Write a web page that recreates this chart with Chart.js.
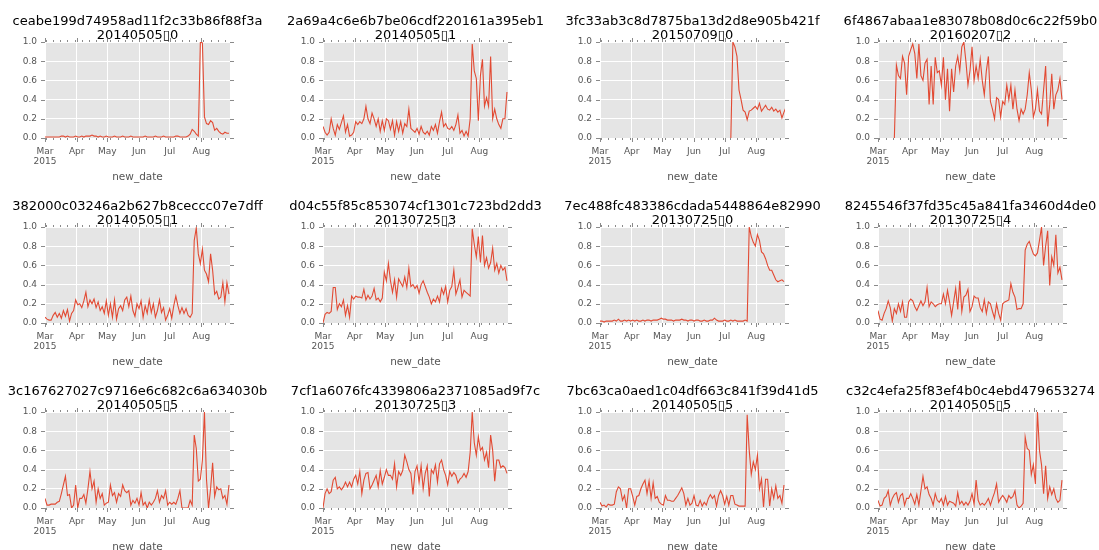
<!DOCTYPE html>
<html>
<head>
<meta charset="utf-8">
<script src="https://cdn.jsdelivr.net/npm/chart.js@4.4.0/dist/chart.umd.min.js"></script>
<style>
body { margin: 0; background: #fff; }
#wrap { position: relative; width: 1099px; height: 550px; overflow: hidden; }
#wrap canvas { position: absolute; }
</style>
</head>
<body>
<div id="wrap"></div>
<script>
// days counted from 2015-03-01, one value every DAY_STEP days
var DAY_STEP = 2;
var LAST_DAY = 181;
var MONTH_DAYS = [0, 31, 61, 92, 122, 153];
var MONTH_LABELS = [['Mar', '2015'], 'Apr', 'May', 'Jun', 'Jul', 'Aug'];
var Y_TICKS = [0, 0.2, 0.4, 0.6, 0.8, 1.0];

var TITLES = [
    ['ceabe199d74958ad11f2c33b86f88f3a', '20140505\u25AF0'],
    ['2a69a4c6e6b7be06cdf220161a395eb1', '20140505\u25AF1'],
    ['3fc33ab3c8d7875ba13d2d8e905b421f', '20150709\u25AF0'],
    ['6f4867abaa1e83078b08d0c6c22f59b0', '20160207\u25AF2'],
    ['382000c03246a2b627b8ceccc07e7dff', '20140505\u25AF1'],
    ['d04c55f85c853074cf1301c723bd2dd3', '20130725\u25AF3'],
    ['7ec488fc483386cdada5448864e82990', '20130725\u25AF0'],
    ['8245546f37fd35c45a841fa3460d4de0', '20130725\u25AF4'],
    ['3c167627027c9716e6c682c6a634030b', '20140505\u25AF5'],
    ['7cf1a6076fc4339806a2371085ad9f7c', '20130725\u25AF3'],
    ['7bc63ca0aed1c04df663c841f39d41d5', '20140505\u25AF5'],
    ['c32c4efa25f83ef4b0c4ebd479653274', '20140505\u25AF5']
];
var START_DAYS = [0, 0, 128, 16, 0, 0, 0, 0, 0, 0, 0, 0];

var s1 = [0.01,0.01,0.01,0.01,0.01,0.01,0.01,0.01,0.02,0.02,
    0.01,0.02,0.01,0.01,0.01,0.02,0.01,0.01,0.02,0.01,
    0.02,0.02,0.02,0.03,0.02,0.02,0.01,0.02,0.01,0.01,
    0.02,0.01,0.01,0.01,0.02,0.01,0.01,0.01,0.02,0.01,
    0.01,0.01,0.02,0.01,0.01,0.01,0.01,0.01,0.01,0.02,
    0.01,0.01,0.01,0.01,0.02,0.01,0.01,0.01,0.02,0.01,
    0.01,0.01,0.01,0.01,0.02,0.02,0.01,0.01,0.01,0.01,
    0.02,0.04,0.09,0.07,0.04,0.02,1.00,0.99,0.22,0.15,
    0.14,0.18,0.16,0.08,0.10,0.07,0.05,0.04,0.06,0.05,
    0.05];
var s2 = [0.12,0.06,0.03,0.06,0.20,0.10,0.03,0.14,0.09,0.16,
    0.23,0.06,0.14,0.02,0.03,0.06,0.17,0.14,0.17,0.15,
    0.20,0.33,0.20,0.15,0.26,0.20,0.12,0.20,0.07,0.18,
    0.08,0.20,0.18,0.09,0.18,0.03,0.17,0.07,0.17,0.05,
    0.15,0.12,0.30,0.10,0.08,0.06,0.10,0.04,0.12,0.06,
    0.04,0.07,0.03,0.12,0.08,0.14,0.05,0.17,0.27,0.12,
    0.15,0.10,0.09,0.12,0.08,0.14,0.24,0.05,0.08,0.02,
    0.07,0.02,0.20,0.98,0.70,0.62,0.18,0.65,0.82,0.33,
    0.42,0.33,0.85,0.20,0.30,0.20,0.14,0.10,0.20,0.20,
    0.48];
var s3 = [0.00,1.00,0.95,0.85,0.50,0.40,0.29,0.27,0.19,0.28,
    0.29,0.31,0.33,0.30,0.36,0.28,0.31,0.34,0.30,0.29,
    0.32,0.28,0.30,0.27,0.29,0.21,0.27,0.32];
var s4 = [0.00,0.76,0.65,0.62,0.85,0.78,0.45,0.85,0.92,0.98,
    0.88,0.62,0.98,0.65,0.60,0.78,0.82,0.35,0.75,0.35,
    0.84,0.68,0.70,0.55,0.84,0.40,0.72,0.28,0.72,0.48,
    0.75,0.85,0.70,0.95,1.00,0.80,0.55,0.70,0.95,0.60,
    0.75,0.62,0.82,0.60,0.45,0.70,0.85,0.38,0.30,0.20,
    0.42,0.40,0.22,0.38,0.35,0.55,0.40,0.55,0.30,0.50,
    0.30,0.18,0.30,0.25,0.30,0.45,0.68,0.50,0.22,0.30,
    0.50,0.28,0.25,0.50,0.75,0.12,0.35,0.67,0.30,0.45,
    0.50,0.62,0.40];
var s5 = [0.06,0.04,0.03,0.03,0.08,0.11,0.06,0.10,0.05,0.13,
    0.07,0.14,0.02,0.10,0.13,0.24,0.19,0.20,0.16,0.23,
    0.32,0.17,0.24,0.20,0.25,0.16,0.22,0.13,0.17,0.10,
    0.23,0.08,0.20,0.06,0.24,0.04,0.15,0.18,0.13,0.24,
    0.27,0.17,0.28,0.13,0.07,0.20,0.15,0.23,0.06,0.18,
    0.10,0.24,0.11,0.20,0.06,0.13,0.24,0.11,0.16,0.03,
    0.08,0.15,0.05,0.18,0.28,0.18,0.10,0.16,0.10,0.15,
    0.08,0.06,0.10,0.86,0.99,0.72,0.62,0.77,0.55,0.51,
    0.43,0.72,0.55,0.30,0.33,0.25,0.27,0.42,0.22,0.42,
    0.30];
var s6 = [0.00,0.09,0.11,0.10,0.12,0.37,0.37,0.14,0.20,0.17,
    0.24,0.08,0.18,0.06,0.28,0.25,0.28,0.27,0.27,0.26,
    0.35,0.24,0.29,0.25,0.28,0.36,0.24,0.26,0.22,0.26,
    0.53,0.44,0.62,0.44,0.32,0.45,0.27,0.46,0.42,0.38,
    0.48,0.37,0.57,0.38,0.40,0.36,0.39,0.31,0.40,0.44,
    0.38,0.32,0.27,0.20,0.25,0.22,0.28,0.22,0.36,0.30,
    0.38,0.22,0.34,0.38,0.55,0.30,0.37,0.45,0.27,0.34,
    0.32,0.30,0.28,0.98,0.82,0.69,0.90,0.63,0.91,0.60,
    0.68,0.57,0.63,0.78,0.55,0.62,0.52,0.60,0.55,0.58,
    0.44];
var s7 = [0.02,0.02,0.01,0.02,0.02,0.02,0.02,0.03,0.02,0.04,
    0.02,0.02,0.03,0.02,0.03,0.02,0.03,0.02,0.03,0.02,
    0.02,0.03,0.02,0.03,0.03,0.02,0.03,0.03,0.03,0.04,
    0.05,0.04,0.04,0.03,0.03,0.03,0.02,0.03,0.03,0.03,
    0.04,0.03,0.03,0.02,0.03,0.03,0.02,0.03,0.03,0.02,
    0.02,0.03,0.02,0.02,0.03,0.03,0.05,0.03,0.02,0.02,
    0.02,0.03,0.02,0.02,0.03,0.02,0.03,0.02,0.02,0.02,
    0.02,0.03,0.02,1.00,0.90,0.84,0.80,0.92,0.86,0.74,
    0.72,0.67,0.60,0.55,0.55,0.50,0.45,0.43,0.44,0.45,
    0.43];
var s8 = [0.13,0.04,0.03,0.10,0.15,0.23,0.16,0.02,0.15,0.10,
    0.20,0.12,0.22,0.06,0.06,0.22,0.25,0.23,0.17,0.13,
    0.18,0.23,0.18,0.22,0.37,0.17,0.22,0.20,0.17,0.19,
    0.20,0.20,0.30,0.20,0.34,0.22,0.08,0.22,0.36,0.14,
    0.44,0.12,0.27,0.29,0.35,0.12,0.17,0.28,0.26,0.26,
    0.16,0.12,0.24,0.10,0.22,0.20,0.12,0.05,0.20,0.10,
    0.03,0.20,0.22,0.23,0.24,0.41,0.32,0.27,0.14,0.15,
    0.15,0.20,0.76,0.82,0.85,0.78,0.72,0.70,0.73,0.86,
    1.00,0.60,0.80,0.96,0.39,0.69,0.60,0.92,0.52,0.58,
    0.45];
var s9 = [0.10,0.03,0.03,0.04,0.04,0.04,0.06,0.07,0.15,0.24,
    0.33,0.13,0.14,0.00,0.03,0.24,0.00,0.10,0.10,0.14,
    0.05,0.20,0.38,0.20,0.28,0.06,0.20,0.10,0.15,0.03,
    0.05,0.06,0.24,0.13,0.16,0.06,0.15,0.12,0.24,0.18,
    0.16,0.18,0.03,0.08,0.05,0.10,0.03,0.16,0.03,0.06,
    0.00,0.06,0.03,0.06,0.10,0.18,0.06,0.13,0.10,0.18,
    0.03,0.06,0.04,0.06,0.04,0.10,0.18,0.00,0.00,0.00,
    0.00,0.08,0.03,0.76,0.62,0.28,0.30,0.50,1.00,0.30,
    0.00,0.20,0.47,0.12,0.22,0.19,0.20,0.10,0.13,0.04,
    0.24];
var s10 = [0.00,0.15,0.20,0.15,0.17,0.29,0.32,0.20,0.22,0.19,
    0.22,0.27,0.22,0.27,0.22,0.30,0.34,0.25,0.38,0.15,
    0.29,0.36,0.37,0.20,0.24,0.29,0.34,0.22,0.39,0.25,
    0.32,0.40,0.34,0.34,0.30,0.46,0.22,0.38,0.34,0.39,
    0.55,0.48,0.40,0.36,0.14,0.38,0.44,0.27,0.44,0.20,
    0.36,0.44,0.12,0.40,0.36,0.45,0.27,0.46,0.50,0.40,
    0.34,0.24,0.38,0.33,0.37,0.34,0.26,0.30,0.32,0.36,
    0.32,0.38,0.58,1.00,0.68,0.55,0.74,0.60,0.63,0.50,
    0.58,0.42,0.76,0.60,0.28,0.50,0.50,0.42,0.44,0.42,
    0.36];
var s11 = [0.06,0.02,0.03,0.01,0.04,0.03,0.03,0.04,0.17,0.22,
    0.20,0.08,0.13,0.00,0.20,0.20,0.12,0.03,0.12,0.13,
    0.20,0.25,0.29,0.15,0.28,0.10,0.26,0.10,0.12,0.06,
    0.04,0.03,0.13,0.08,0.08,0.07,0.07,0.10,0.13,0.17,
    0.21,0.15,0.03,0.10,0.03,0.05,0.13,0.03,0.02,0.08,
    0.02,0.06,0.03,0.10,0.14,0.10,0.13,0.02,0.13,0.18,
    0.13,0.04,0.12,0.03,0.13,0.13,0.04,0.03,0.02,0.02,
    0.02,0.02,0.97,0.60,0.35,0.48,0.40,0.55,0.20,0.30,
    0.01,0.30,0.30,0.02,0.20,0.10,0.23,0.10,0.13,0.05,
    0.24];
var s12 = [0.08,0.02,0.03,0.10,0.12,0.18,0.03,0.10,0.14,0.16,
    0.06,0.13,0.15,0.03,0.10,0.10,0.15,0.10,0.04,0.14,
    0.03,0.18,0.33,0.20,0.22,0.14,0.10,0.03,0.15,0.08,
    0.06,0.10,0.03,0.12,0.03,0.07,0.06,0.05,0.02,0.16,
    0.04,0.07,0.03,0.06,0.03,0.07,0.15,0.04,0.29,0.08,
    0.03,0.05,0.03,0.06,0.10,0.03,0.10,0.16,0.25,0.06,
    0.10,0.13,0.10,0.06,0.13,0.10,0.12,0.18,0.03,0.00,
    0.02,0.05,0.74,0.62,0.60,0.35,0.45,0.25,1.00,0.60,
    0.45,0.15,0.44,0.10,0.22,0.14,0.20,0.10,0.06,0.08,
    0.29];
var SERIES = [s1, s2, s3, s4, s5, s6, s7, s8, s9, s10, s11, s12];

var COL_LEFT = [0, 278, 555, 833];
var PANEL_H = 185;
var PLOT_LEFT = 45, PLOT_RIGHT = 230, PLOT_TOP = 42, PLOT_BOTTOM = 138;
var TICK_GRAY = '#555555';

// grey panel background, outward tick marks on all four sides, titles and x label
var panelDecor = {
    id: 'panelDecor',
    beforeDraw: function(chart) {
        var a = chart.chartArea, ctx = chart.ctx;
        ctx.save();
        ctx.fillStyle = '#E5E5E5';
        ctx.fillRect(a.left, a.top, a.right - a.left, a.bottom - a.top);
        ctx.restore();
    },
    afterDraw: function(chart, args, opts) {
        var a = chart.chartArea, ctx = chart.ctx;
        var xs = chart.scales.x, ys = chart.scales.y;
        ctx.save();
        ctx.strokeStyle = '#8a8a8a';
        ctx.lineWidth = 1;
        ctx.beginPath();
        function xtick(day, len) {
            var px = Math.round(xs.getPixelForValue(day)) + 0.5;
            ctx.moveTo(px, a.bottom); ctx.lineTo(px, a.bottom + len);
            ctx.moveTo(px, a.top); ctx.lineTo(px, a.top - len);
        }
        MONTH_DAYS.forEach(function(d) { xtick(d, 4); });
        for (var d = 1; d <= LAST_DAY; d += 7) xtick(d, 2);
        Y_TICKS.forEach(function(v) {
            var py = Math.round(ys.getPixelForValue(v)) + 0.5;
            ctx.moveTo(a.left, py); ctx.lineTo(a.left - 4, py);
            ctx.moveTo(a.right, py); ctx.lineTo(a.right + 4, py);
        });
        ctx.stroke();

        var cx = (a.left + a.right) / 2;
        ctx.fillStyle = '#000';
        ctx.textAlign = 'center';
        ctx.textBaseline = 'alphabetic';
        ctx.font = '13px "DejaVu Sans"';
        ctx.fillText(opts.lines[0], cx, a.top - 17);
        ctx.fillText(opts.lines[1], cx, a.top - 3);

        ctx.fillStyle = TICK_GRAY;
        ctx.textBaseline = 'middle';
        ctx.font = '10.5px "DejaVu Sans"';
        ctx.fillText('new_date', cx, a.bottom + 39);
        ctx.restore();
    }
};

function makePanel(i) {
    var col = i % 4, row = Math.floor(i / 4);
    var w = Math.min(278, 1099 - COL_LEFT[col]);
    var canvas = document.createElement('canvas');
    canvas.width = w;
    canvas.height = PANEL_H;
    canvas.style.left = COL_LEFT[col] + 'px';
    canvas.style.top = (row * PANEL_H) + 'px';
    document.getElementById('wrap').appendChild(canvas);

    var pts = SERIES[i].map(function(v, k) {
        return { x: START_DAYS[i] + k * DAY_STEP, y: v };
    });

    new Chart(canvas, {
        type: 'line',
        data: {
            datasets: [{
                data: pts,
                borderColor: '#E24A33',
                borderWidth: 1.1,
                pointRadius: 0,
                tension: 0,
                fill: false
            }]
        },
        plugins: [panelDecor],
        options: {
            responsive: false,
            animation: false,
            devicePixelRatio: 1,
            layout: { padding: { left: 0, top: PLOT_TOP, right: w - PLOT_RIGHT, bottom: 0 } },
            plugins: {
                legend: { display: false },
                tooltip: { enabled: false },
                panelDecor: { lines: TITLES[i] }
            },
            scales: {
                x: {
                    type: 'linear',
                    min: 0,
                    max: LAST_DAY,
                    afterBuildTicks: function(scale) {
                        scale.ticks = MONTH_DAYS.map(function(d) { return { value: d }; });
                    },
                    afterFit: function(scale) { scale.height = PANEL_H - PLOT_BOTTOM; },
                    ticks: {
                        autoSkip: false,
                        maxRotation: 0,
                        padding: 9,
                        color: TICK_GRAY,
                        font: { family: 'DejaVu Sans', size: 9, lineHeight: 1.1 },
                        callback: function(value) {
                            return MONTH_LABELS[MONTH_DAYS.indexOf(value)];
                        }
                    },
                    grid: { color: '#ffffff', lineWidth: 1, drawTicks: false },
                    border: { display: false }
                },
                y: {
                    min: 0,
                    max: 1,
                    afterBuildTicks: function(scale) {
                        scale.ticks = Y_TICKS.map(function(v) { return { value: v }; });
                    },
                    afterFit: function(scale) { scale.width = PLOT_LEFT; },
                    ticks: {
                        padding: 8,
                        color: TICK_GRAY,
                        font: { family: 'DejaVu Sans', size: 9 },
                        callback: function(value) { return value.toFixed(1); }
                    },
                    grid: { color: '#ffffff', lineWidth: 1, drawTicks: false },
                    border: { display: false }
                }
            }
        }
    });
}

for (var i = 0; i < SERIES.length; i++) {
    makePanel(i);
}
</script>
</body>
</html>
